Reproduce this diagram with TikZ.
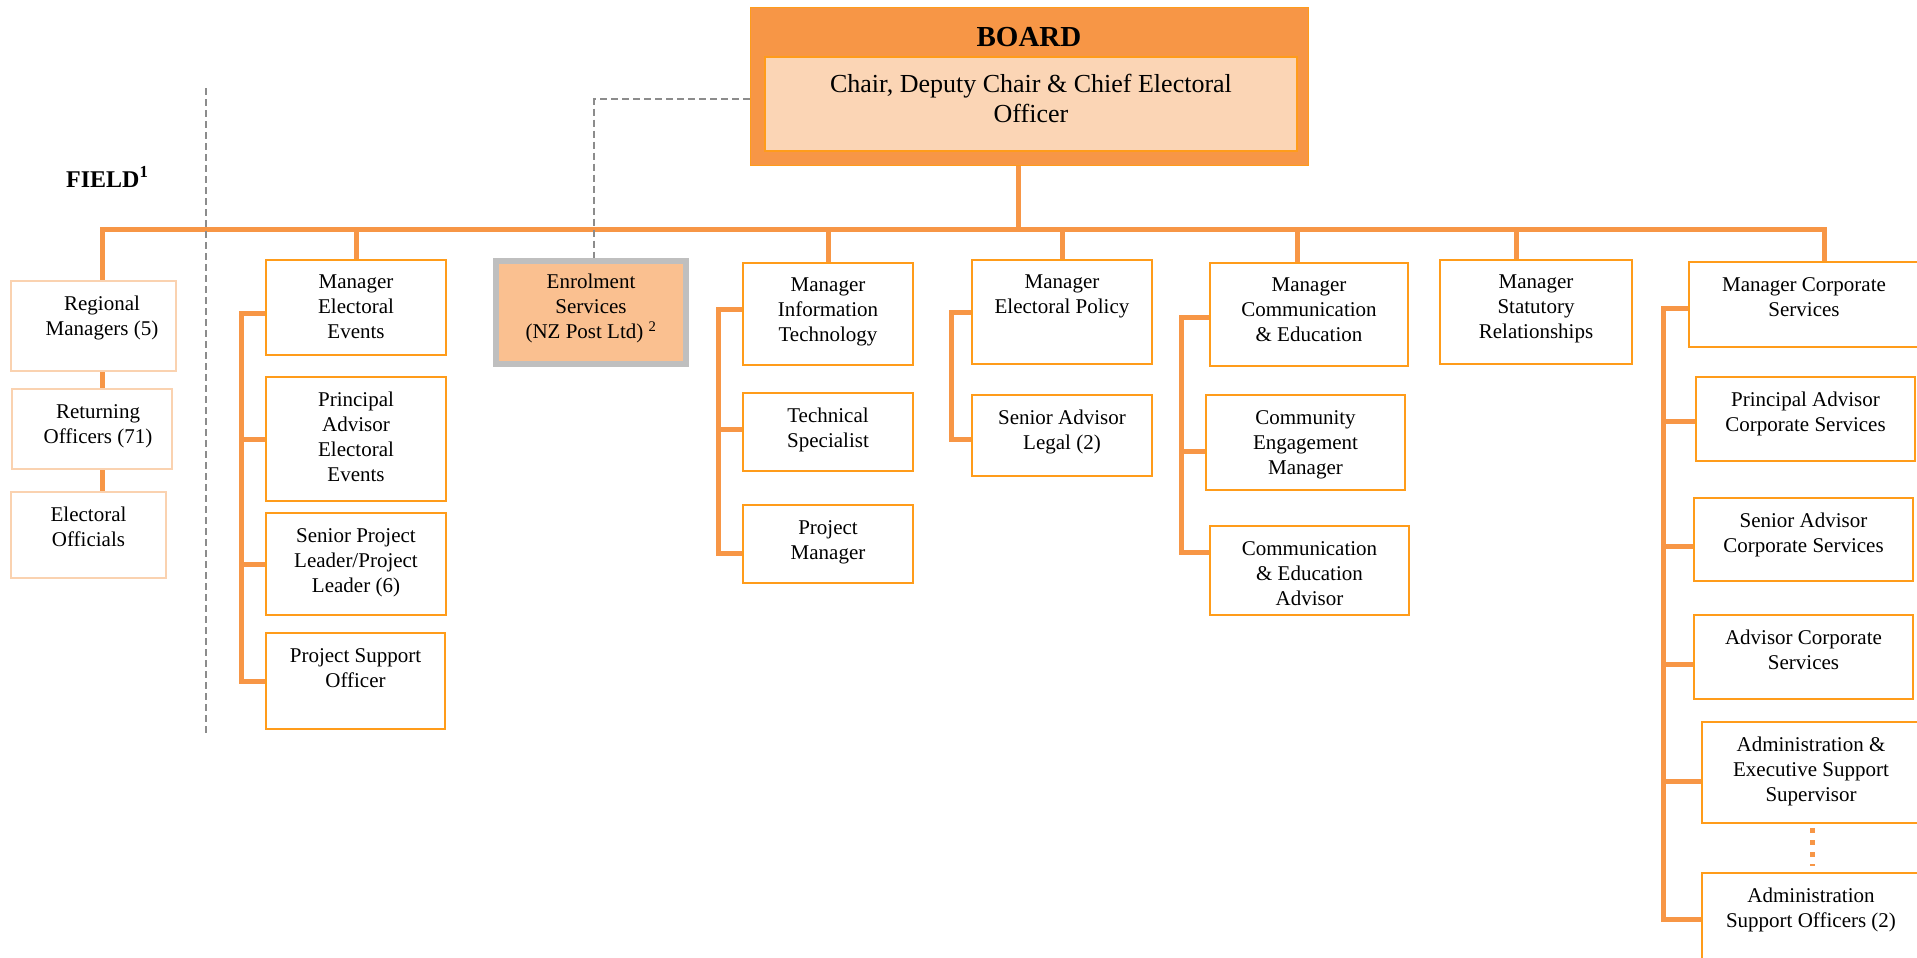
\documentclass[tikz,border=0pt]{standalone}
\usepackage{fontspec}
\setmainfont{Liberation Serif}
\usetikzlibrary{fit}
\definecolor{corange}{HTML}{F79646}
\definecolor{bord}{HTML}{FF9C1A}
\definecolor{fieldb}{HTML}{FAD2B0}
\definecolor{boardin}{HTML}{FBD5B5}
\definecolor{enrfill}{HTML}{FAC090}
\definecolor{enrgray}{HTML}{BFBFBF}
\definecolor{dashgray}{HTML}{8C8C8C}
\pgfdeclarelayer{bg}
\pgfdeclarelayer{paper}
\pgfsetlayers{paper,bg,main}
\tikzset{
  conn/.style={draw=corange, line width=5pt},
  obox/.style={draw=bord, line width=2pt, fill=white, inner sep=0pt},
  fbox/.style={draw=fieldb, line width=2pt, fill=white, inner sep=0pt},
  ebox/.style={draw=enrgray, line width=6pt, fill=enrfill, inner sep=0pt},
  txt/.style={font=\fontsize{21}{25}\selectfont, align=center, inner sep=0pt, anchor=north, text=black},
  graydash/.style={draw=dashgray, line width=1.5pt, dash pattern=on 7pt off 4pt},
  dotconn/.style={draw=corange, line width=5pt, dash pattern=on 5pt off 7pt},
}
\newcommand{\orgbox}[8]{%
  \node[#1, fit={(#3,#4) (#5,#6)}] (#2) {};
  \node[txt] (#2-t) at ([xshift=#8pt, yshift=-16pt]#2.north) {#7};
}
\begin{document}
\begin{tikzpicture}[x=1pt,y=-1pt]
\useasboundingbox (0,0) rectangle (1917,958);
\begin{pgfonlayer}{paper}
\fill[white] (0,0) rectangle (1917,958);
\end{pgfonlayer}

% Board
\node[fill=corange, draw=bord, line width=1pt, inner sep=0pt, fit={(750,8) (1308,165)}] (board) {};
\node[fill=boardin, draw=bord, line width=2.5pt, inner sep=0pt, fit={(765,57) (1297,151)}] (boardin) {};
\node[font=\bfseries\fontsize{29}{33}\selectfont, inner sep=0pt] (boardt) at (1029,37) {BOARD};
\node[font=\fontsize{26}{30}\selectfont, align=center, inner sep=0pt] (chairt) at (1031,98) {Chair, Deputy Chair \& Chief Electoral\\Officer};

% Field
\node[font=\bfseries\fontsize{24}{28}\selectfont, inner sep=0pt, anchor=base west] (field) at (66,187) {FIELD\textsuperscript{1}};
\orgbox{fbox}{reg}{11}{281}{176}{371}{Regional\\Managers (5)}{8.5}
\orgbox{fbox}{ret}{12}{389}{172}{469}{Returning\\Officers (71)}{6}
\orgbox{fbox}{eo}{11}{492}{166}{578}{Electoral\\Officials}{0}

% Electoral events
\orgbox{obox}{mee}{266}{260}{446}{355}{Manager\\Electoral\\Events}{0}
\orgbox{obox}{pae}{266}{377}{446}{501}{Principal\\Advisor\\Electoral\\Events}{0}
\orgbox{obox}{spl}{266}{513}{446}{615}{Senior Project\\Leader/Project\\Leader (6)}{0}
\orgbox{obox}{pso}{266}{633}{445}{729}{Project Support\\Officer}{0}

% Enrolment
\orgbox{ebox}{enr}{496}{261}{686}{364}{Enrolment\\Services\\(NZ Post Ltd) \textsuperscript{2}}{0}

% IT
\orgbox{obox}{mit}{743}{263}{913}{365}{Manager\\Information\\Technology}{0}
\orgbox{obox}{tsp}{743}{393}{913}{471}{Technical\\Specialist}{0}
\orgbox{obox}{pmg}{743}{505}{913}{583}{Project\\Manager}{0}

% Electoral policy
\orgbox{obox}{mep}{972}{260}{1152}{364}{Manager\\Electoral Policy}{0}
\orgbox{obox}{sal}{972}{395}{1152}{476}{Senior Advisor\\Legal (2)}{0}

% Communication
\orgbox{obox}{mce}{1210}{263}{1408}{366}{Manager\\Communication\\\& Education}{0}
\orgbox{obox}{cem}{1206}{395}{1405}{490}{Community\\Engagement\\Manager}{0}
\orgbox{obox}{cea}{1210}{526}{1409}{615}{Communication\\\& Education\\Advisor}{0}

% Statutory
\orgbox{obox}{msr}{1440}{260}{1632}{364}{Manager\\Statutory\\Relationships}{0}

% Corporate
\orgbox{obox}{mcs}{1689}{262}{1919}{347}{Manager Corporate\\Services}{0}
\orgbox{obox}{pac}{1696}{377}{1915}{461}{Principal Advisor\\Corporate Services}{0}
\orgbox{obox}{sac}{1694}{498}{1913}{581}{Senior Advisor\\Corporate Services}{0}
\orgbox{obox}{acs}{1694}{615}{1913}{699}{Advisor Corporate\\Services}{0}
\orgbox{obox}{aes}{1702}{722}{1920}{823}{Administration \&\\Executive Support\\Supervisor}{0}
\orgbox{obox}{aso}{1702}{873}{1920}{966}{Administration\\Support Officers (2)}{0}

\coordinate (busR) at (1824,229);
\coordinate (divT) at (206,88);
\coordinate (divB) at (206,735);

\draw[dotconn, shorten <=4pt, shorten >=6pt] ([xshift=1pt]aes.south) -- ([xshift=1pt]aso.north);

\begin{pgfonlayer}{bg}
% bus and drops
\draw[conn] ([xshift=8.5pt]reg.north) |- (busR) -- ([xshift=20pt]mcs.north);
\draw[conn] ([xshift=-11pt]board.south) |- (busR);
\draw[conn] (mee.north) |- (busR);
\draw[conn] (mit.north) |- (busR);
\draw[conn] (mep.north) |- (busR);
\draw[conn] ([xshift=-12pt]mce.north) |- (busR);
\draw[conn] ([xshift=-20pt]msr.north) |- (busR);
% field chain
\draw[conn] ([xshift=8.5pt]reg.south) -- ([xshift=10pt]ret.north);
\draw[conn] ([xshift=10pt]ret.south) -- ([xshift=13.5pt]eo.north);
% electoral events
\draw[conn] ([yshift=-5.5pt]mee.west) -- ++(-24,0) |- (pso.west);
\draw[conn] (pae.west) -- ++(-24,0);
\draw[conn] (spl.west) -- ++(-24,0);
% IT
\draw[conn] ([yshift=5pt]mit.west) -- ++(-24,0) |- ([yshift=-9pt]pmg.west);
\draw[conn] ([yshift=3pt]tsp.west) -- ++(-24,0);
% EP
\draw[conn] (mep.west) -- ++(-20,0) |- ([yshift=-3.5pt]sal.west);
% Comm
\draw[conn] ([yshift=-2.5pt]mce.west) -- ++(-28,0) |- ([yshift=18.5pt]cea.west);
\draw[conn] ([yshift=-8.5pt]cem.west) -- ++(-24,0);
% Corporate
\draw[conn] ([yshift=-3.5pt]mcs.west) -- ++(-25,0) |- (aso.west);
\draw[conn] ([yshift=-2pt]pac.west) -- ++(-32,0);
\draw[conn] ([yshift=-6.5pt]sac.west) -- ++(-30,0);
\draw[conn] ([yshift=-7pt]acs.west) -- ++(-30,0);
\draw[conn] ([yshift=-8.5pt]aes.west) -- ++(-38,0);
% dashed
\draw[graydash] ([yshift=-12.5pt]board.west) -| ([xshift=3pt]enr.north);
\draw[graydash] (divT) -- (divB);
\end{pgfonlayer}
\end{tikzpicture}
\end{document}
